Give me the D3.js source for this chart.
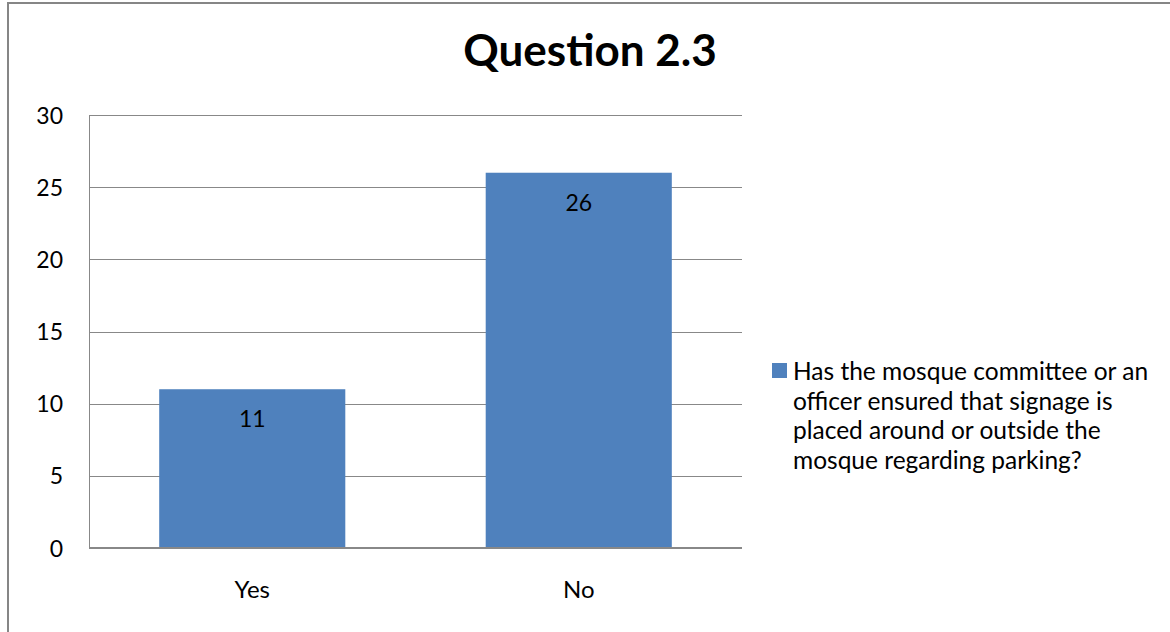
<!DOCTYPE html>
<html>
<head>
<meta charset="utf-8">
<script src="https://cdn.jsdelivr.net/npm/d3@7"></script>
<style>
  body { margin: 0; background: #fff; }
  text { font-family: Lato, "Open Sans", sans-serif; fill: #000; }
</style>
</head>
<body>
<script>
// data
var categories = ["Yes", "No"];
var values = [11, 26];
var yTicks = [0, 5, 10, 15, 20, 25, 30];
var title = "Question 2.3";
var seriesName = ["Has the mosque committee or an", "officer ensured that signage is",
                  "placed around or outside the", "mosque regarding parking?"];

var W = 1170, H = 632;
var plotL = 89, plotR = 742, plotT = 115, plotB = 548;

var svg = d3.select("body").append("svg")
    .attr("width", W)
    .attr("height", H);

// chart border
svg.append("rect")
    .attr("x", 8).attr("y", 3)
    .attr("width", W).attr("height", H)
    .attr("fill", "none")
    .attr("stroke", "#868686")
    .attr("stroke-width", 2);

var x = d3.scaleBand().domain(categories).range([plotL, plotR]).paddingInner(0.43).paddingOuter(0.215);
var y = d3.scaleLinear().domain([0, 30]).range([plotB, plotT]);

// gridlines
svg.selectAll("line.grid")
    .data(yTicks.slice(1))
    .enter().append("line")
    .attr("class", "grid")
    .attr("x1", plotL).attr("x2", plotR)
    .attr("y1", function(d){ return Math.round(y(d)) + 0.5; })
    .attr("y2", function(d){ return Math.round(y(d)) + 0.5; })
    .attr("stroke", "#888")
    .attr("stroke-width", 1);

// bars
svg.selectAll("rect.bar")
    .data(values)
    .enter().append("rect")
    .attr("class", "bar")
    .attr("x", function(d, i){ return x(categories[i]); })
    .attr("width", x.bandwidth())
    .attr("y", function(d){ return y(d); })
    .attr("height", function(d){ return y(0) - y(d); })
    .attr("fill", "#4F81BD");

// value labels
svg.selectAll("text.val")
    .data(values)
    .enter().append("text")
    .attr("class", "val")
    .attr("x", function(d, i){ return x(categories[i]) + x.bandwidth() / 2; })
    .attr("y", function(d){ return y(d) + 38; })
    .attr("text-anchor", "middle")
    .attr("font-size", 23)
    .text(function(d){ return d; });

// y axis
var yAxis = svg.append("g")
    .attr("transform", "translate(" + plotL + ",0)")
    .call(d3.axisLeft(y).tickValues(yTicks).tickSize(0).tickPadding(26));
yAxis.select(".domain").attr("stroke", "#888").attr("d", "M0.5," + plotT + "V" + plotB);
yAxis.selectAll("text").attr("font-size", 23).attr("font-family", "Lato, 'Open Sans', sans-serif").attr("dy", "0.35em");

// x axis
var xAxis = svg.append("g")
    .attr("transform", "translate(0," + plotB + ")")
    .call(d3.axisBottom(x).tickSize(0).tickPadding(33));
xAxis.select(".domain").attr("stroke", "#888").attr("stroke-width", 2).attr("d", "M" + plotL + ",0H" + plotR);
xAxis.selectAll("text").attr("font-size", 24).attr("font-family", "Lato, 'Open Sans', sans-serif");

// title
svg.append("text")
    .attr("x", 590).attr("y", 66)
    .attr("text-anchor", "middle")
    .attr("font-size", 44)
    .attr("font-weight", "bold")
    .text(title);

// legend
var lg = svg.append("g").attr("transform", "translate(772,363)");
lg.append("rect")
    .attr("width", 15).attr("height", 15)
    .attr("fill", "#4F81BD");
lg.selectAll("text")
    .data(seriesName)
    .enter().append("text")
    .attr("x", 21)
    .attr("y", function(d, i){ return 17 + i * 29.5; })
    .attr("font-size", 24.5)
    .text(function(d){ return d; });
</script>
</body>
</html>
